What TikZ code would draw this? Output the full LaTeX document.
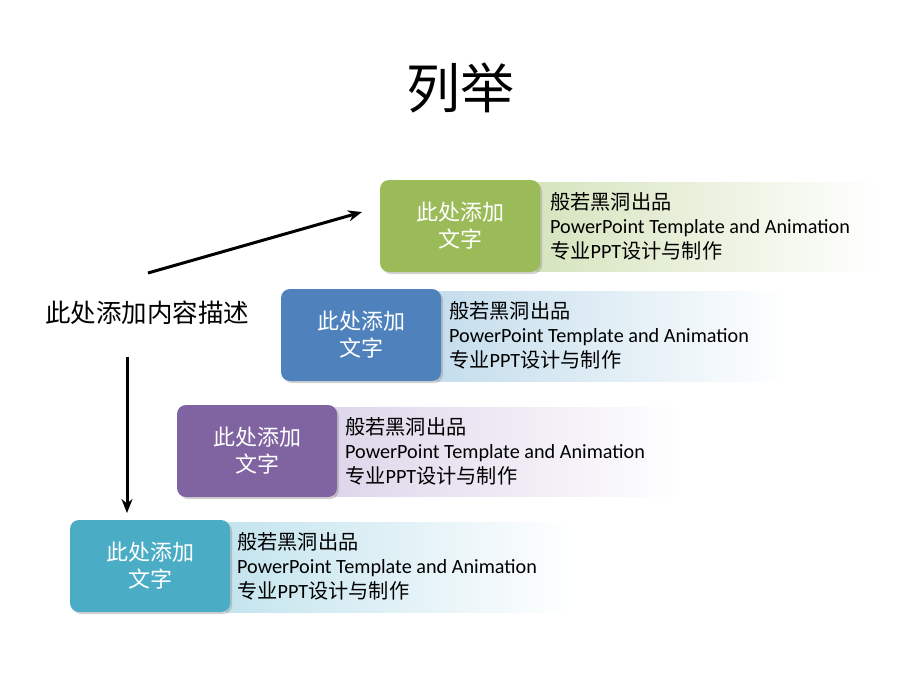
\documentclass[tikz,border=0pt]{standalone}
\usepackage{fontspec}
\setmainfont{Carlito}
\newfontfamily\cjk{Noto Sans CJK SC}
\usetikzlibrary{shadows,arrows.meta}
\definecolor{cgreen}{HTML}{9BBB59}
\definecolor{cblue}{HTML}{4F81BD}
\definecolor{cpurple}{HTML}{8064A2}
\definecolor{cteal}{HTML}{4BACC6}
\definecolor{pgreen}{RGB}{214,228,190}
\definecolor{pblue}{RGB}{196,221,236}
\definecolor{ppurple}{RGB}{222,214,234}
\definecolor{pteal}{RGB}{196,228,238}
\tikzset{
  x=1pt, y=-1pt,
  box/.style={rounded corners=9pt, minimum width=160pt, minimum height=92pt, inner sep=0pt,
     text=white, align=center, font=\cjk\fontsize{22}{27}\selectfont,
     drop shadow={shadow xshift=2pt, shadow yshift=-2pt, opacity=0.35, fill=gray}},
  ptext/.style={anchor=west, align=left, inner sep=0pt, font=\fontsize{20.2}{24.5}\selectfont},
  arr/.style={line width=3pt, -{Stealth[length=14pt,width=11pt]}},
}
\begin{document}
\begin{tikzpicture}
\useasboundingbox (0,0) rectangle (920,690);
\fill[white] (0,0) rectangle (920,690);
\node (title) at (460,88) {\cjk\fontsize{54}{56}\selectfont 列举};
% panels
\shade[left color=pgreen, right color=white] (536,182) rectangle (880,271);
\shade[left color=pblue, right color=white] (436,291) rectangle (790,381);
\shade[left color=ppurple, right color=white] (333,407) rectangle (685,496);
\shade[left color=pteal, right color=white] (226,522) rectangle (575,612);
% boxes
\node[box, fill=cgreen] (b1) at (460,226) {此处添加\\文字};
\node[box, fill=cblue] (b2) at (361,335) {此处添加\\文字};
\node[box, fill=cpurple] (b3) at (257,451) {此处添加\\文字};
\node[box, fill=cteal] (b4) at (150,566) {此处添加\\文字};
% texts
\node[ptext] (t1) at (550,226) {{\cjk 般若黑洞出品}\\PowerPoint Template and Animation\\{\cjk 专业}PPT{\cjk 设计与制作}};
\node[ptext] (t2) at (449,335) {{\cjk 般若黑洞出品}\\PowerPoint Template and Animation\\{\cjk 专业}PPT{\cjk 设计与制作}};
\node[ptext] (t3) at (345,451) {{\cjk 般若黑洞出品}\\PowerPoint Template and Animation\\{\cjk 专业}PPT{\cjk 设计与制作}};
\node[ptext] (t4) at (237,566) {{\cjk 般若黑洞出品}\\PowerPoint Template and Animation\\{\cjk 专业}PPT{\cjk 设计与制作}};
% label
\node[inner sep=0pt, anchor=west] (lab) at (45,313) {\cjk\fontsize{25.5}{28}\selectfont 此处添加内容描述};
\coordinate (a1s) at (148,273);
\coordinate (a1e) at (362,212);
\coordinate (a2s) at (127,357);
\coordinate (a2e) at (127,513);
\draw[arr] (a1s) -- (a1e);
\draw[arr] (a2s) -- (a2e);
\end{tikzpicture}
\end{document}
